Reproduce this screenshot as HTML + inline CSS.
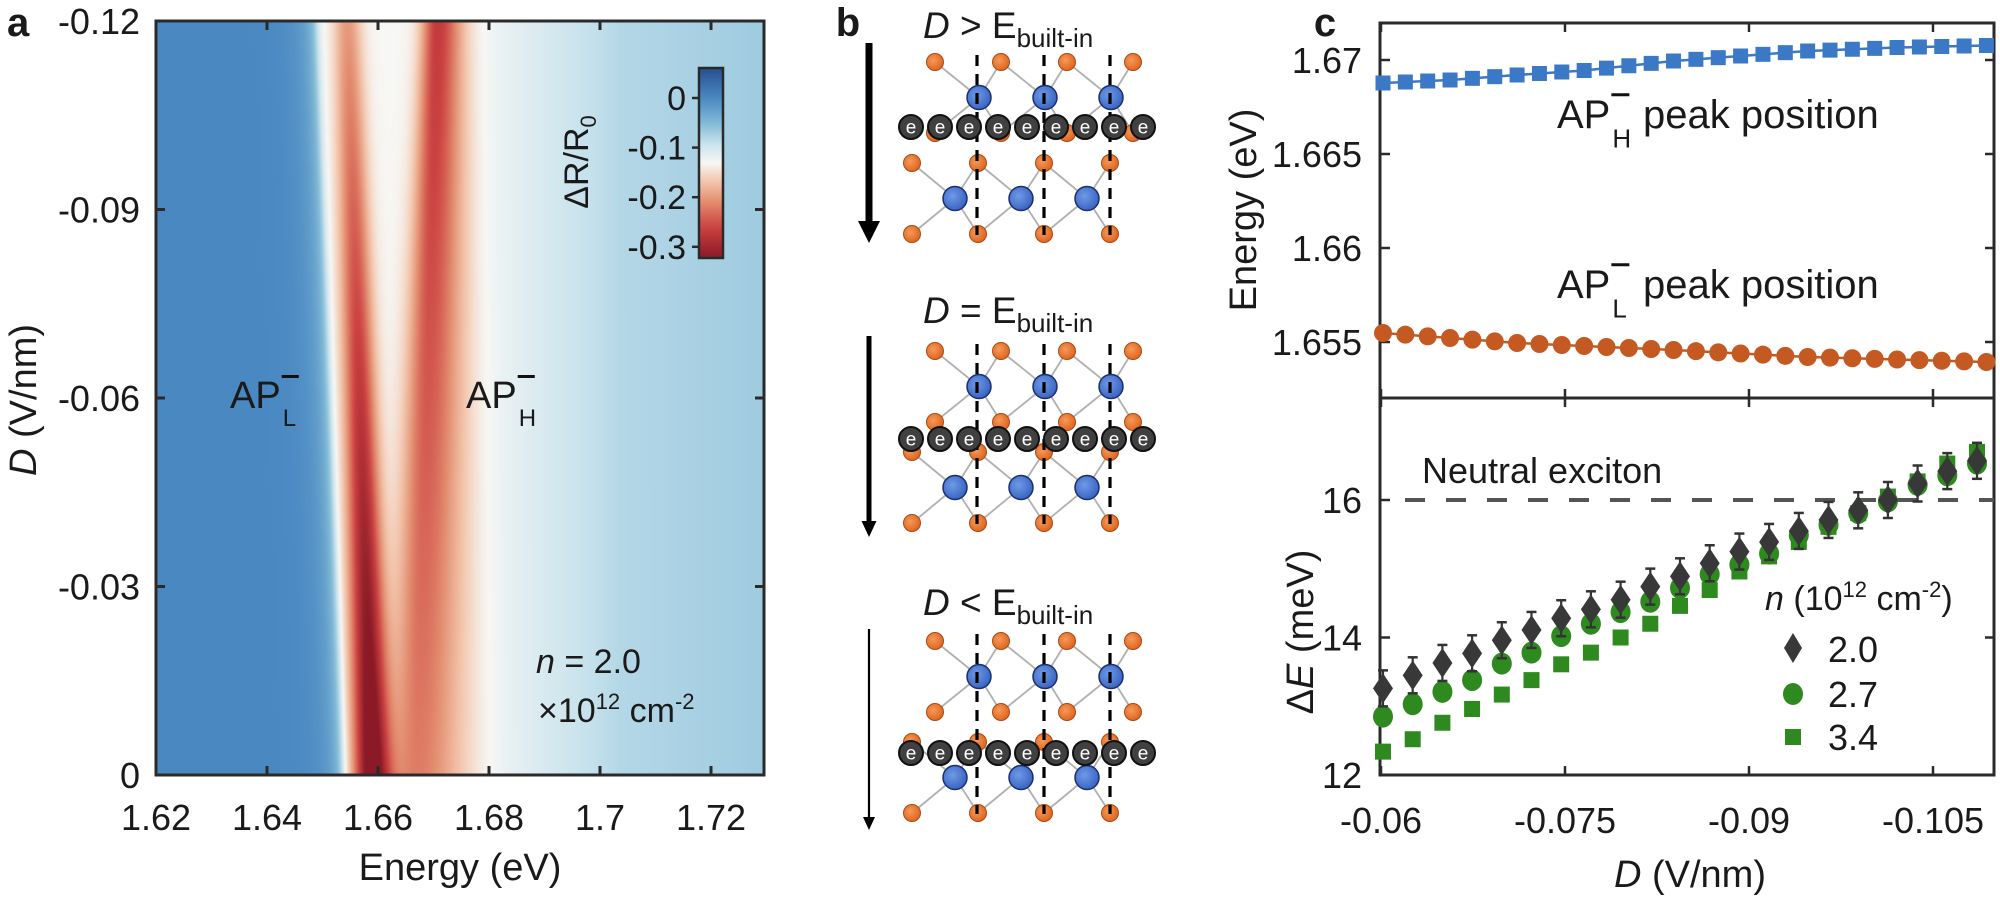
<!DOCTYPE html>
<html><head><meta charset="utf-8">
<style>
html,body{margin:0;padding:0;background:#fff;}
#wrap{position:relative;width:2000px;height:900px;overflow:hidden;}
canvas{position:absolute;left:156px;top:21px;}
svg{position:absolute;left:0;top:0;}
text{font-family:"Liberation Sans",Arial,sans-serif;fill:#1a1a1a;}
</style></head>
<body><div id="wrap">
<canvas id="hm" width="608" height="754"></canvas>
<svg id="s" width="2000" height="900" xmlns="http://www.w3.org/2000/svg">
<defs>
<radialGradient id="og" cx="40%" cy="40%" r="60%"><stop offset="0" stop-color="#f59a5a"/><stop offset="1" stop-color="#e0661f"/></radialGradient>
<radialGradient id="bg" cx="40%" cy="40%" r="60%"><stop offset="0" stop-color="#6f9ae6"/><stop offset="1" stop-color="#3a66c4"/></radialGradient>
<linearGradient id="cb" x1="0" y1="0" x2="0" y2="1"></linearGradient>
</defs>
</svg>
</div>
<script>
const stops=[[0.07,[34,70,135]],[0.0,[74,136,194]],[-0.05,[128,185,214]],[-0.09,[197,225,236]],[-0.13,[247,247,245]],[-0.17,[242,195,169]],[-0.21,[227,140,111]],[-0.26,[204,66,66]],[-0.32,[139,26,38]]];
function cmap(v){
 if(v>=stops[0][0])return stops[0][1];
 for(let i=0;i<stops.length-1;i++){const a=stops[i],b=stops[i+1];
  if(v<=a[0]&&v>=b[0]){const f=(a[0]-v)/(a[0]-b[0]);return [0,1,2].map(k=>a[1][k]+(b[1][k]-a[1][k])*f);}}
 return stops[stops.length-1][1];}
const cv=document.getElementById('hm'),ctx=cv.getContext('2d');
const W=608,H=754,img=ctx.createImageData(W,H);
for(let py=0;py<H;py++){const t=py/(H-1);
 const e=318+27*t,c1=347+25*t,c2=437-20*t,A1=0.07+0.15*t,w1=10+3*t,A2=0.14-0.05*t,w2=11+9*t;
 for(let px=0;px<W;px++){const X=156+px;
  const sL=1/(1+Math.exp((X-e)/2.5));
  const lv=-0.075*Math.exp(-Math.max(0,e-X)/13);
  let rv=-0.13; if(X>470)rv+=0.05*Math.min(1,(X-470)/150); if(X>620)rv+=0.012*(X-620)/144;
  let v=sL*lv+(1-sL)*rv;
  v-=A1*Math.exp(-0.5*((X-c1)/w1)**2);
  const ww=X>c2?w2*1.6:w2; v-=A2*Math.exp(-0.5*((X-c2)/ww)**2);
  const c=cmap(v),i=(py*W+px)*4;img.data[i]=c[0];img.data[i+1]=c[1];img.data[i+2]=c[2];img.data[i+3]=255;}}
ctx.putImageData(img,0,0);
const S=document.getElementById('s'),NS="http://www.w3.org/2000/svg";
function el(tag,a,txt,parent){const e=document.createElementNS(NS,tag);for(const k in a)e.setAttribute(k,a[k]);if(txt!==undefined)e.textContent=txt;(parent||S).appendChild(e);return e;}
const g=document.getElementById('cb');
for(let k=0;k<=20;k++){const y=68+k*190/20;const v=-(y-98)/49.6*0.1;const c=cmap(v);el('stop',{offset:k/20,'stop-color':`rgb(${c.map(Math.round).join(',')})`},undefined,g);}
const AX='#2a2a2a';
function line(x1,y1,x2,y2,w,c,extra){return el('line',Object.assign({x1,y1,x2,y2,stroke:c||AX,'stroke-width':w||3},extra||{}));}
function txt(x,y,s,size,anchor,extra){return el('text',Object.assign({x,y,'font-size':size,'text-anchor':anchor||'start'},extra||{}),s);}
// ---------- Panel a ----------
el('rect',{x:156,y:21,width:608,height:754,fill:'none',stroke:AX,'stroke-width':3});
const ax=[1.62,1.64,1.66,1.68,1.7,1.72];
ax.forEach((v,i)=>{const x=156+i*111;line(x,775,x,766);line(x,21,x,30);txt(x,830,String(v),36,'middle');});
['-0.12','-0.09','-0.06','-0.03','0'].forEach((s,i)=>{const y=21+i*188.5;line(156,y,165,y);line(764,y,755,y);txt(140,y+13,s,36,'end');});
txt(460,880,'Energy (eV)',38,'middle');
const yl=el('text',{x:0,y:0,'font-size':38,'text-anchor':'middle',transform:'translate(36,400) rotate(-90)'});
el('tspan',{'font-style':'italic'},'D',yl);el('tspan',{},' (V/nm)',yl);
txt(7,36,'a',40,'start',{'font-weight':'bold'});
el('rect',{x:699,y:68,width:24,height:190,fill:'url(#cb)',stroke:AX,'stroke-width':2.5});
[['0',98],['-0.1',147.6],['-0.2',197.2],['-0.3',246.8]].forEach(([s,y])=>{line(692,y,699,y,2.5);txt(686,y+12,s,34,'end');});
const cl=el('text',{x:0,y:0,'font-size':34,'text-anchor':'middle',transform:'translate(588,162) rotate(-90)'});
cl.appendChild(document.createTextNode('ΔR/R'));el('tspan',{'font-size':22,dy:8},'0',cl);
function apLabel(x,y,sub,size,subSize){
 const t=txt(x,y,'AP',size);const w=size*1.334;
 line(x+w+1,y-size*0.83,x+w+1+size*0.45,y-size*0.83,3,'#111');
 txt(x+w+2,y+subSize*0.75,sub,subSize);
 return w;
}
apLabel(230,408,'L',38,24);
apLabel(466,408,'H',38,24);
const nt=el('text',{x:536,y:673,'font-size':34});el('tspan',{'font-style':'italic'},'n',nt);el('tspan',{},' = 2.0',nt);
const nt2=el('text',{x:538,y:722,'font-size':34});nt2.appendChild(document.createTextNode('×10'));el('tspan',{'font-size':22,dy:-13},'12',nt2);el('tspan',{dy:13},' cm',nt2);el('tspan',{'font-size':22,dy:-13},'-2',nt2);
// ---------- Panel b ----------
txt(848,36,'b',40,'middle',{'font-weight':'bold'});
function title(y,sym){const t=el('text',{x:923,y:y,'font-size':37});el('tspan',{'font-style':'italic'},'D',t);t.appendChild(document.createTextNode(' '+sym+' E'));el('tspan',{'font-size':26,dy:9},'built-in',t);}
function arrow(y1,y2,w,hw,hl){line(869,y1,869,y2-hl+2,w,'#000');el('polygon',{points:`${869-hw/2},${y2-hl} ${869+hw/2},${y2-hl} 869,${y2}`,fill:'#000'});}
function layer(ox,yT,dx){
 const yB=yT+35.5,yO=yT+71;const os=[0,1,2,3].map(k=>ox+k*66),bs=[0,1,2].map(k=>ox+dx+k*66);
 const G=el('g',{});
 bs.forEach((b,k)=>{[[os[k],yT],[os[k+1],yT],[os[k],yO],[os[k+1],yO]].forEach(([x,y])=>el('line',{x1:b,y1:yB,x2:x,y2:y,stroke:'#b0b0b0','stroke-width':1.8},undefined,G));});
 return {os,bs,yT,yB,yO,G};
}
function drawAtoms(L){L.os.forEach(x=>{el('circle',{cx:x,cy:L.yT,r:8.5,fill:'url(#og)',stroke:'#a84a14','stroke-width':1});el('circle',{cx:x,cy:L.yO,r:8.5,fill:'url(#og)',stroke:'#a84a14','stroke-width':1});});
 L.bs.forEach(x=>el('circle',{cx:x,cy:L.yB,r:12,fill:'url(#bg)',stroke:'#1b2f6e','stroke-width':1.5}));}
function struct(yTitle,yTop,yE,aw){
 title(yTitle,aw.sym);
 arrow(aw.y1,aw.y2,aw.w,aw.hw,aw.hl);
 const U=layer(935,yTop,44),Lw=layer(912,yTop+101,43);
 drawAtoms(Lw);drawAtoms(U);
 [977,1044,1110].forEach(x=>line(x,yTop-7,x,yTop+173,3.2,'#000',{'stroke-dasharray':'11 8'}));
 for(let k=0;k<9;k++){const x=911+29*k;el('circle',{cx:x,cy:yE,r:12,fill:'#404040',stroke:'#111','stroke-width':2});txt(x,yE+6.5,'e',19,'middle',{style:'fill:#fff'});}
}
struct(38,62,127,{sym:'>',y1:43,y2:243,w:7,hw:22,hl:22});
struct(323,351,439,{sym:'=',y1:336,y2:537,w:5,hw:15,hl:16});
struct(615,641,753,{sym:'<',y1:629,y2:830,w:2.2,hw:12,hl:13});
// ---------- Panel c ----------
txt(1325,36,'c',40,'middle',{'font-weight':'bold'});
const XL=1381,XR=1994;function xs(d){return 1381+(-0.06-d)/0.015*184;}
el('rect',{x:XL-1,y:23,width:XR-XL+1,height:752,fill:'none',stroke:AX,'stroke-width':3});
line(XL-1,398,XR,398,3);
[-0.06,-0.075,-0.09,-0.105].forEach((d,i)=>{const x=xs(d);[[23,1],[398,1],[398,-1],[775,-1]].forEach(([y,s])=>line(x,y,x,y+9*s,2.5));
 txt(x,833,['-0.06','-0.075','-0.09','-0.105'][i],36,'middle');});
[['1.67',60],['1.665',154],['1.66',248],['1.655',342]].forEach(([s,y])=>{line(XL,y,XL+9,y,2.5);line(XR,y,XR-9,y,2.5);txt(1362,y+13,s,36,'end');});
[['12',775],['14',637.5],['16',500]].forEach(([s,y])=>{line(XL,y,XL+9,y,2.5);line(XR,y,XR-9,y,2.5);txt(1362,y+13,s,36,'end');});
el('text',{x:0,y:0,'font-size':38,'text-anchor':'middle',transform:'translate(1256,210) rotate(-90)'},'Energy (eV)');
const el2=el('text',{x:0,y:0,'font-size':38,'text-anchor':'middle',transform:'translate(1313,632) rotate(-90)'});
el('tspan',{},'Δ',el2);el('tspan',{'font-style':'italic'},'E',el2);el('tspan',{},' (meV)',el2);
const xl=el('text',{x:1690,y:887,'font-size':38,'text-anchor':'middle'});el('tspan',{'font-style':'italic'},'D',xl);el('tspan',{},' (V/nm)',xl);
apLabel(1557,128,'H',40,26);txt(1643,128,'peak position',40);
apLabel(1557,298,'L',40,26);txt(1643,298,'peak position',40);
function interp(knots,i){for(let k=0;k<knots.length-1;k++){const a=knots[k],b=knots[k+1];if(i>=a[0]&&i<=b[0])return a[1]+(b[1]-a[1])*(i-a[0])/(b[0]-a[0]);}return knots[knots.length-1][1];}
const bk=[[0,83],[3,80],[6,75],[9,70.5],[13,61],[16,56],[19,51],[23,47.5],[27,45.5]];
const okn=[[0,333],[6,343],[13,350],[19,357],[27,362]];
let bp=[],op=[];for(let i=0;i<28;i++){const x=1383+i*22.35;bp.push([x,interp(bk,i)]);op.push([x,interp(okn,i)]);}
el('polyline',{points:bp.map(p=>p.join(',')).join(' '),fill:'none',stroke:'#3b78c6','stroke-width':2.5});
el('polyline',{points:op.map(p=>p.join(',')).join(' '),fill:'none',stroke:'#c45a22','stroke-width':2.5});
bp.forEach(([x,y])=>el('rect',{x:x-7.5,y:y-7.5,width:15,height:15,fill:'#3b78c6'}));
op.forEach(([x,y])=>el('circle',{cx:x,cy:y,r:9,fill:'#c45a22'}));
line(1405,500,XR,500,4,'#555',{'stroke-dasharray':'20 21'});
txt(1422,483,'Neutral exciton',36);
function ys(v){return 500+(16-v)*68.75;}
const d2=[13.26,13.45,13.63,13.77,13.96,14.11,14.28,14.41,14.55,14.74,14.89,15.08,15.25,15.39,15.55,15.71,15.85,16.0,16.24,16.42,16.57];
const d27=[12.85,13.03,13.21,13.38,13.62,13.78,14.02,14.2,14.37,14.52,14.72,14.92,15.06,15.22,15.49,15.64,15.81,15.98,16.22,16.36,16.53];
const d34=[12.34,12.52,12.76,12.96,13.17,13.38,13.61,13.78,14.0,14.2,14.46,14.69,14.96,15.18,15.39,15.61,15.81,16.05,16.27,16.53,16.7];
const GR='#2e8a1f';
d34.forEach((v,i)=>{const x=1383+i*29.7,y=ys(v);el('rect',{x:x-8,y:y-8,width:16,height:16,fill:GR});});
d27.forEach((v,i)=>{const x=1383+i*29.7,y=ys(v);el('ellipse',{cx:x,cy:y,rx:10,ry:11,fill:GR});});
d2.forEach((v,i)=>{const x=1383+i*29.7,y=ys(v),e=18;
 line(x,y-e,x,y+e,2.2,'#333');line(x-5,y-e,x+5,y-e,2.5,'#333');line(x-5,y+e,x+5,y+e,2.5,'#333');
 el('polygon',{points:`${x},${y-15} ${x+10},${y} ${x},${y+15} ${x-10},${y}`,fill:'#383838'});});
const lg=el('text',{x:1765,y:610,'font-size':34});el('tspan',{'font-style':'italic'},'n',lg);lg.appendChild(document.createTextNode(' (10'));el('tspan',{'font-size':22,dy:-13},'12',lg);el('tspan',{dy:13},' cm',lg);el('tspan',{'font-size':22,dy:-13},'-2',lg);el('tspan',{dy:13},')',lg);
el('polygon',{points:'1793,633 1802,648 1793,663 1784,648',fill:'#383838'});txt(1828,662,'2.0',36);
el('ellipse',{cx:1793,cy:694,rx:10,ry:11,fill:GR});txt(1828,707,'2.7',36);
el('rect',{x:1785,y:729,width:16,height:16,fill:GR});txt(1828,750,'3.4',36);
</script>
</body></html>
